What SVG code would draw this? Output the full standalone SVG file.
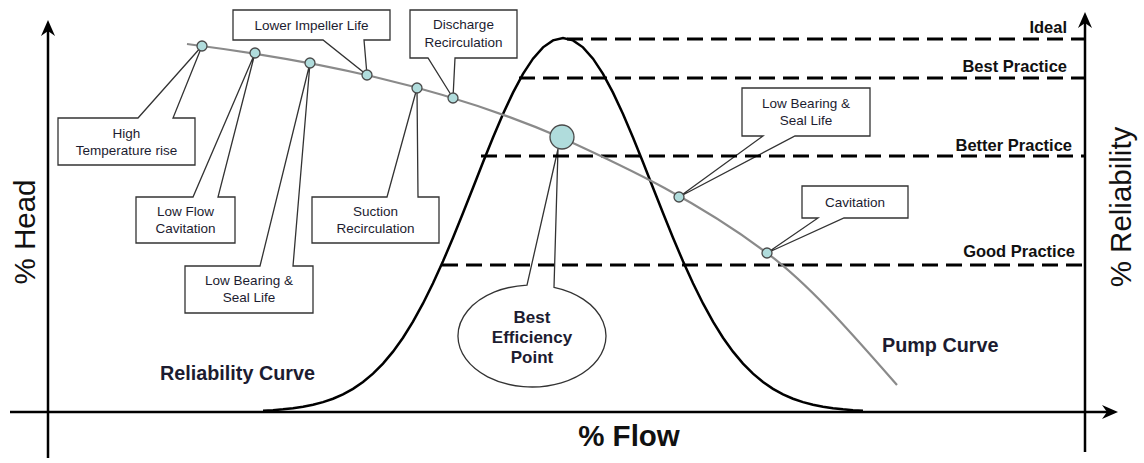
<svg xmlns="http://www.w3.org/2000/svg" width="1144" height="463" viewBox="0 0 1144 463">
  <style>
    .axis { stroke:#000; stroke-width:2.5; fill:none; }
    .level { stroke:#000; stroke-width:3; stroke-dasharray:16 8; fill:none; }
    .bell { stroke:#000; stroke-width:2.5; fill:none; }
    .pump { stroke:#8a8a8a; stroke-width:2.2; fill:none; }
    .box { fill:#fff; stroke:#333; stroke-width:1.3; }
    .dot { fill:#b0dcdc; stroke:#4a4a4a; stroke-width:1.3; }
    .note { font-family:"Liberation Sans",Arial,sans-serif; font-size:13.5px; fill:#1c1c30; text-anchor:middle; }
    .lvltxt { font-family:"Liberation Sans",Arial,sans-serif; font-size:16.5px; font-weight:bold; fill:#111; text-anchor:end; }
    .curvetxt { font-family:"Liberation Sans",Arial,sans-serif; font-size:19.8px; font-weight:bold; fill:#1c1c30; }
    .axistxt { font-family:"Liberation Sans",Arial,sans-serif; font-size:29.5px; fill:#111; text-anchor:middle; }
    .bep { font-family:"Liberation Sans",Arial,sans-serif; font-size:17px; font-weight:bold; fill:#1c1c30; text-anchor:middle; }
  </style>
  <defs>
    <marker id="arrow" viewBox="0 0 16 14" refX="8" refY="7" markerWidth="16" markerHeight="14" markerUnits="userSpaceOnUse" orient="auto">
      <path d="M0,0 L16,7 L0,14 L5,7 Z" fill="#000"/>
    </marker>
  </defs>
  <rect width="1144" height="463" fill="#fff"/>

  <!-- axes -->
  <g id="axes">
    <line class="axis" x1="48" y1="458" x2="48" y2="28" marker-end="url(#arrow)"/>
    <line class="axis" x1="10" y1="412" x2="1110" y2="412" marker-end="url(#arrow)"/>
    <line class="axis" x1="1085" y1="452" x2="1085" y2="20" marker-end="url(#arrow)"/>
    <text class="axistxt" transform="translate(35,232) rotate(-90)">% Head</text>
    <text class="axistxt" transform="translate(1131,207) rotate(-90)">% Reliability</text>
    <text class="axistxt" x="629" y="446" font-size="28px" font-weight="bold">% Flow</text>
  </g>

  <!-- callouts (drawn beneath the level lines so the dashes stay continuous) -->
  <g id="callout-high-temp">
    <path class="box" d="M58,118 H138 L202,46 L173,118 H195 V165 H58 Z"/>
    <text class="note" x="126.5" y="138">High</text>
    <text class="note" x="126.5" y="155">Temperature rise</text>
  </g>
  <g id="callout-low-flow">
    <path class="box" d="M136,197 H193 L255,53 L218,197 H235 V243 H136 Z"/>
    <text class="note" x="185.5" y="215.5">Low Flow</text>
    <text class="note" x="185.5" y="232.5">Cavitation</text>
  </g>
  <g id="callout-bearing-left">
    <path class="box" d="M185,266 H260 L310,63 L293,266 H313 V313 H185 Z"/>
    <text class="note" x="249" y="285">Low Bearing &amp;</text>
    <text class="note" x="249" y="302">Seal Life</text>
  </g>
  <g id="callout-impeller">
    <path class="box" d="M233,10 H390 V40 H364 L367,75 L323,40 H233 Z"/>
    <text class="note" x="311.5" y="30">Lower Impeller Life</text>
  </g>
  <g id="callout-suction">
    <path class="box" d="M312,197 H387 L417,88 L418,197 H439 V243 H312 Z"/>
    <text class="note" x="375.5" y="215.5">Suction</text>
    <text class="note" x="375.5" y="232.5">Recirculation</text>
  </g>
  <g id="callout-discharge">
    <path class="box" d="M410,10 H517 V58 H455 L453,98 L428,58 H410 Z"/>
    <text class="note" x="463.5" y="29">Discharge</text>
    <text class="note" x="463.5" y="47">Recirculation</text>
  </g>
  <g id="callout-bearing-right">
    <path class="box" d="M742,88 H870 V136 H795 L679,197 L763,136 H742 Z"/>
    <text class="note" x="806" y="108">Low Bearing &amp;</text>
    <text class="note" x="806" y="125">Seal Life</text>
  </g>
  <g id="callout-cavitation">
    <path class="box" d="M802,186 H908 V218 H844 L767,253 L818,218 H802 Z"/>
    <text class="note" x="855" y="207">Cavitation</text>
  </g>
  <g id="callout-bep">
    <path class="box" d="M527,285.1 L558,149 L554,287.3 A74,51 0 1 1 527,285.1 Z"/>
    <text class="bep" x="532" y="323">Best</text>
    <text class="bep" x="532" y="343">Efficiency</text>
    <text class="bep" x="532" y="363">Point</text>
  </g>

  <!-- reliability levels -->
  <g id="levels">
    <line class="level" x1="567" y1="39" x2="1085" y2="39"/>
    <line class="level" x1="519" y1="78" x2="1085" y2="78"/>
    <line class="level" x1="481" y1="156" x2="1085" y2="156"/>
    <line class="level" x1="442" y1="265" x2="1085" y2="265"/>
    <text class="lvltxt" x="1067" y="33">Ideal</text>
    <text class="lvltxt" x="1067" y="72">Best Practice</text>
    <text class="lvltxt" x="1072" y="151">Better Practice</text>
    <text class="lvltxt" x="1075" y="257">Good Practice</text>
  </g>

  <!-- curves -->
  <g id="connectors">
    <path id="reliability-curve" class="bell" d="M263,410.72 L273,410.15 L283,409.35 L293,408.25 L303,406.76 L313,404.77 L323,402.14 L333,398.73 L343,394.38 L353,388.88 L363,382.05 L373,373.69 L383,363.62 L393,351.66 L403,337.69 L413,321.63 L423,303.47 L433,283.31 L443,261.31 L453,237.75 L463,213.05 L473,187.71 L483,162.3 L493,137.5 L503,114.02 L513,92.6 L523,73.93 L533,58.66 L543,47.32 L553,40.35 L563,38 L573,40.35 L583,47.32 L593,58.66 L603,73.93 L613,92.6 L623,114.02 L633,137.5 L643,162.3 L653,187.71 L663,213.05 L673,237.75 L683,261.31 L693,283.31 L703,303.47 L713,321.63 L723,337.69 L733,351.66 L743,363.62 L753,373.69 L763,382.05 L773,388.88 L783,394.38 L793,398.73 L803,402.14 L813,404.77 L823,406.76 L833,408.25 L843,409.35 L853,410.15 L863,410.72"/>
    <path id="pump-curve" class="pump" d="M187,44 C310,60 437,84 562,138 C630,169 699,202 767,253 C810,285 854,336 897,385"/>
  </g>

  <!-- operating points on the pump curve -->
  <g id="points">
    <circle class="dot" cx="202" cy="46" r="5"/>
    <circle class="dot" cx="255" cy="53" r="5"/>
    <circle class="dot" cx="310" cy="63" r="5"/>
    <circle class="dot" cx="367" cy="75" r="5"/>
    <circle class="dot" cx="417" cy="88" r="5"/>
    <circle class="dot" cx="453" cy="98" r="5"/>
    <circle class="dot" cx="679" cy="197" r="5"/>
    <circle class="dot" cx="767" cy="253" r="5"/>
    <circle id="bep-point" class="dot" cx="562" cy="137" r="12" stroke-width="1.5"/>
  </g>

  <!-- curve names -->
  <g id="curve-labels">
    <text class="curvetxt" x="160" y="380">Reliability Curve</text>
    <text class="curvetxt" x="882" y="352">Pump Curve</text>
  </g>
</svg>
